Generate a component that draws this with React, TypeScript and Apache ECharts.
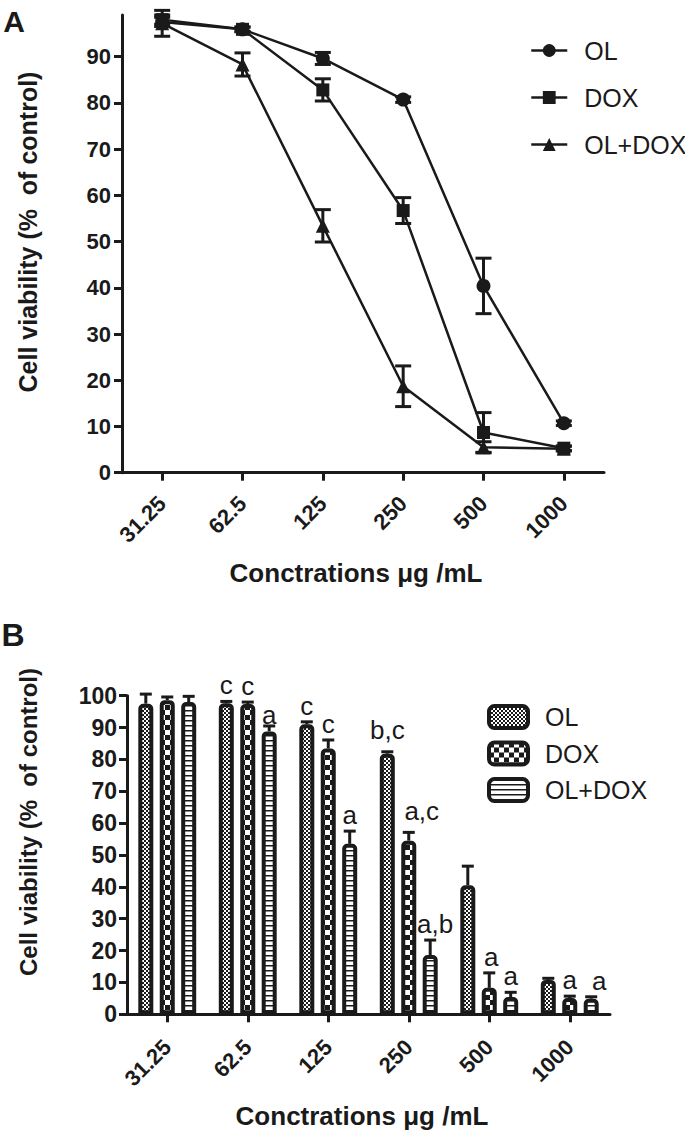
import { useEffect, useRef } from 'react';
import * as echarts from 'echarts';

// ---------- data ----------
const concentrations = ['31.25', '62.5', '125', '250', '500', '1000'];
const yTicksA = [0, 10, 20, 30, 40, 50, 60, 70, 80, 90];
const seriesNames = ['OL', 'DOX', 'OL+DOX'];

// Panel A (mean, SD)
const lineOL = [97.5, 95.9, 89.6, 80.7, 40.4, 10.7];
const lineOLErr = [1.0, 0.5, 1.3, 0.6, 6.0, 0.5];
const lineDOX = [98.0, 95.9, 82.8, 56.7, 8.7, 5.3];
const lineDOXErr = [1.0, 0.5, 2.4, 2.8, 4.3, 0.5];
const lineCombo = [97.2, 88.3, 53.4, 18.7, 5.5, 5.2];
const lineComboErr = [2.8, 2.5, 3.5, 4.4, 1.2, 0.5];

// Panel B (mean, SD)
const barOL = [97.5, 97.6, 91.0, 81.8, 40.5, 10.8];
const barOLErr = [3.0, 0.6, 0.8, 0.6, 6.0, 0.5];
const barDOX = [98.6, 97.4, 83.4, 54.5, 8.3, 5.1];
const barDOXErr = [1.0, 0.6, 2.7, 2.6, 4.7, 0.6];
const barCombo = [98.0, 88.8, 53.5, 18.6, 5.4, 4.9];
const barComboErr = [1.8, 1.7, 4.0, 4.7, 1.5, 0.6];

// significance letters
const lettersOL = ['', 'c', 'c', 'b,c', '', ''];
const lettersDOX = ['', 'c', 'c', 'a,c', 'a', 'a'];
const lettersCombo = ['', 'a', 'a', 'a,b', 'a', 'a'];

// ---------- layout / style ----------
const INK = '#1a1a1a';
const FONT = 'Arial, "Liberation Sans", Helvetica, sans-serif';
const BAR_W = 15;
const BAR_GAP = 0.43;
// label nudges [dx, dy] per series (OL, DOX, OL+DOX) and category
const labelNudge: Record<string, [number, number]> = {
  '0-3': [0, -6],
  '1-3': [13, -5],
  '1-4': [2, 0],
  '2-1': [0, 5],
  '2-3': [5, 0],
  '2-5': [8, 0],
};

export default function App() {
  const ref = useRef<HTMLDivElement>(null);

  useEffect(() => {
    const chart = echarts.init(ref.current!, null, { renderer: 'svg' });

    const tile = (w: number, h: number, draw: (g: CanvasRenderingContext2D) => void) => {
      const c = document.createElement('canvas');
      c.width = w;
      c.height = h;
      const g = c.getContext('2d')!;
      g.fillStyle = '#ffffff';
      g.fillRect(0, 0, w, h);
      g.fillStyle = INK;
      draw(g);
      return { image: c, repeat: 'repeat', imageWidth: w, imageHeight: h } as any;
    };
    const finePattern = tile(4, 4, (g) => {
      g.fillRect(0, 0, 2, 2);
      g.fillRect(2, 2, 2, 2);
    });
    const coarsePattern = tile(10, 10, (g) => {
      g.fillRect(0, 0, 5, 5);
      g.fillRect(5, 5, 5, 5);
    });
    const stripePattern = tile(5, 5, (g) => {
      g.fillRect(0, 0, 5, 1.5);
    });
    const patterns = [finePattern, coarsePattern, stripePattern];

    const axisLineStyle = { color: INK, width: 3 };

    const lineSeries = (name: string, vals: number[], symbol: string, size: number) => ({
      type: 'line',
      name,
      xAxisIndex: 0,
      yAxisIndex: 0,
      data: vals,
      symbol,
      symbolSize: size,
      showAllSymbol: true,
      itemStyle: { color: INK },
      lineStyle: { color: INK, width: 2.5 },
      z: 4,
      silent: true,
    });

    const errA = (vals: number[], errs: number[]) => ({
      type: 'custom',
      xAxisIndex: 0,
      yAxisIndex: 0,
      z: 3,
      silent: true,
      data: vals.map((v, i) => [i, v, errs[i]]),
      renderItem: (_p: any, api: any) => {
        const i = api.value(0);
        const v = api.value(1);
        const e = api.value(2);
        const top = api.coord([i, v + e]);
        const bot = api.coord([i, v - e]);
        const x = top[0];
        const hw = 8;
        const st = { stroke: INK, lineWidth: 3 };
        return {
          type: 'group',
          children: [
            { type: 'line', shape: { x1: x, y1: top[1], x2: x, y2: bot[1] }, style: st },
            { type: 'line', shape: { x1: x - hw, y1: top[1], x2: x + hw, y2: top[1] }, style: st },
            { type: 'line', shape: { x1: x - hw, y1: bot[1], x2: x + hw, y2: bot[1] }, style: st },
          ],
        };
      },
    });

    const barNames = ['barOL', 'barDOX', 'barCombo'];
    const barSeries = (k: number, vals: number[]) => ({
      type: 'bar',
      name: barNames[k],
      xAxisIndex: 1,
      yAxisIndex: 1,
      data: vals,
      barWidth: BAR_W,
      barGap: `${BAR_GAP * 100}%`,
      itemStyle: {
        color: patterns[k],
        borderColor: INK,
        borderWidth: 4,
        borderRadius: [3, 3, 0, 0],
      },
      z: 2,
      silent: true,
    });

    const slot = BAR_W * (1 + BAR_GAP);
    const errB = (k: number, vals: number[], errs: number[], letters: string[]) => ({
      type: 'custom',
      xAxisIndex: 1,
      yAxisIndex: 1,
      z: 5,
      silent: true,
      data: vals.map((v, i) => [i, v, errs[i]]),
      renderItem: (_p: any, api: any) => {
        const i = api.value(0);
        const v = api.value(1);
        const e = api.value(2);
        const base = api.coord([i, v]);
        const top = api.coord([i, v + e]);
        const x = base[0] + (k - 1) * slot;
        const hw = 6;
        const st = { stroke: INK, lineWidth: 3 };
        const children: any[] = [
          { type: 'line', shape: { x1: x, y1: base[1], x2: x, y2: top[1] }, style: st },
          { type: 'line', shape: { x1: x - hw, y1: top[1], x2: x + hw, y2: top[1] }, style: st },
        ];
        const txt = letters[i];
        if (txt) {
          const n = labelNudge[`${k}-${i}`] || [0, 0];
          children.push({
            type: 'text',
            x: x + n[0],
            y: top[1] - 3 + n[1],
            style: {
              text: txt,
              fill: INK,
              fontSize: 26,
              fontFamily: FONT,
              align: 'center',
              textAlign: 'center',
              verticalAlign: 'bottom',
              textVerticalAlign: 'bottom',
            },
          });
        }
        return { type: 'group', children };
      },
    });

    const xAxisBase = (gridIndex: number, margin: number) => ({
      type: 'category',
      gridIndex,
      data: concentrations,
      boundaryGap: true,
      axisLine: { show: true, lineStyle: axisLineStyle },
      axisTick: { show: true, alignWithLabel: true, length: 8, lineStyle: axisLineStyle },
      axisLabel: {
        interval: 0,
        rotate: 45,
        color: INK,
        fontSize: 22,
        fontWeight: 'bold',
        fontFamily: FONT,
        margin,
      },
      splitLine: { show: false },
    });

    const titleText = (text: string, x: number, y: number, size: number, rot = 0) => ({
      type: 'text',
      x,
      y,
      rotation: rot,
      silent: true,
      style: {
        text,
        fill: INK,
        fontSize: size,
        fontWeight: 'bold',
        fontFamily: FONT,
        align: 'center',
        textAlign: 'center',
        verticalAlign: 'middle',
        textVerticalAlign: 'middle',
      },
    });

    const option: any = {
      animation: false,
      backgroundColor: '#ffffff',
      grid: [
        { left: 122, top: 15, width: 482, height: 457.7, containLabel: false },
        { left: 127, top: 695.7, width: 483, height: 318.6, containLabel: false },
      ],
      xAxis: [xAxisBase(0, 27), xAxisBase(1, 29)],
      yAxis: [
        {
          type: 'value',
          gridIndex: 0,
          min: 0,
          max: 99,
          interval: 10,
          axisLine: { show: true, lineStyle: axisLineStyle },
          axisTick: { show: true, length: 8, lineStyle: axisLineStyle, customValues: yTicksA },
          axisLabel: {
            customValues: yTicksA,
            color: INK,
            fontSize: 22,
            fontWeight: 'bold',
            fontFamily: FONT,
            margin: 11,
          },
          splitLine: { show: false },
        },
        {
          type: 'value',
          gridIndex: 1,
          min: 0,
          max: 100,
          interval: 10,
          axisLine: { show: true, lineStyle: axisLineStyle },
          axisTick: { show: true, length: 8, lineStyle: axisLineStyle },
          axisLabel: {
            color: INK,
            fontSize: 23,
            fontWeight: 'bold',
            fontFamily: FONT,
            margin: 10,
          },
          splitLine: { show: false },
        },
      ],
      legend: [
        {
          orient: 'vertical',
          left: 525,
          top: 33,
          itemWidth: 36,
          itemHeight: 16,
          itemGap: 22,
          data: seriesNames,
          selectedMode: false,
          textStyle: { color: INK, fontSize: 25, fontFamily: FONT, padding: [0, 0, 0, 12] },
          lineStyle: { width: 2.5, color: INK },
          itemStyle: { color: INK, borderWidth: 0 },
        },
        {
          orient: 'vertical',
          left: 482,
          top: 699,
          itemWidth: 39,
          itemHeight: 22,
          itemGap: 10.5,
          icon: 'roundRect',
          data: barNames,
          selectedMode: false,
          formatter: (n: string) => seriesNames[barNames.indexOf(n)],
          textStyle: { color: INK, fontSize: 25, fontFamily: FONT, padding: [0, 0, 0, 12] },
          itemStyle: { borderColor: INK, borderWidth: 4 },
        },
      ],
      graphic: [
        titleText('A', 14, 21, 30),
        titleText('B', 13, 635, 32),
        titleText('Cell viability (%  of control)', 28, 232, 25, Math.PI / 2),
        titleText('Cell viability (%  of control)', 28, 822, 24, Math.PI / 2),
        titleText('Conctrations \u03bcg /mL', 356, 573, 26),
        titleText('Conctrations \u03bcg /mL', 362, 1116, 26),
      ],
      series: [
        errA(lineOL, lineOLErr),
        errA(lineDOX, lineDOXErr),
        errA(lineCombo, lineComboErr),
        lineSeries('OL', lineOL, 'circle', 14),
        lineSeries('DOX', lineDOX, 'rect', 13),
        lineSeries('OL+DOX', lineCombo, 'triangle', 14),
        barSeries(0, barOL),
        barSeries(1, barDOX),
        barSeries(2, barCombo),
        errB(0, barOL, barOLErr, lettersOL),
        errB(1, barDOX, barDOXErr, lettersDOX),
        errB(2, barCombo, barComboErr, lettersCombo),
      ],
    };

    chart.setOption(option);
    return () => chart.dispose();
  }, []);

  return (
    <div
      ref={ref}
      style={{ position: 'absolute', left: 0, top: 0, width: 685, height: 1131, background: '#fff' }}
    />
  );
}
